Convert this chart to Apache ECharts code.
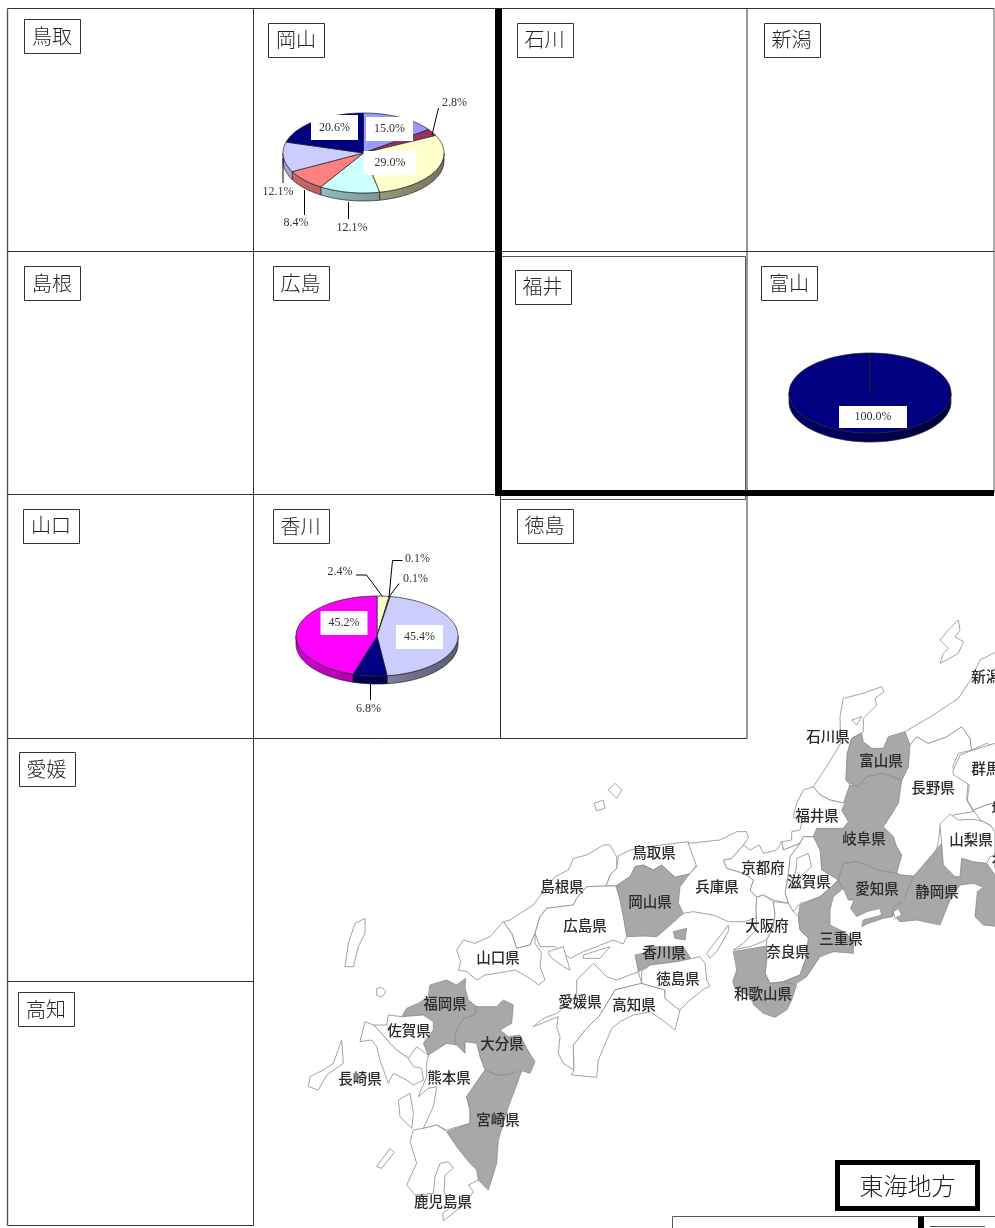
<!DOCTYPE html>
<html>
<head>
<meta charset="utf-8">
<style>
  html, body { margin: 0; background: #fff; }
  #main { width: 995px; height: 1228px; }
</style>
</head>
<body>
<div id="main"></div>
<script src="https://cdn.jsdelivr.net/npm/echarts@6/dist/echarts.min.js"></script>
<script>
// shares, clockwise from 12 o'clock
const okayamaShares = [15.0, 2.8, 29.0, 12.1, 8.4, 12.1, 20.6];
const toyamaShares = [100.0];
const kagawaShares = [2.4, 0.1, 0.1, 45.4, 6.8, 45.2];

const okayamaColors = ["#9999ff", "#993366", "#ffffcc", "#ccffff", "#ff8080", "#ccccff", "#000080"];
const toyamaColors = ["#000080"];
const kagawaColors = ["#ffffcc", "#ffffff", "#ffffff", "#ccccff", "#000080", "#ff00ff"];

const prefectureLabels = [
  ["鳥取", 24, 19, 56], ["岡山", 268, 22.5, 56], ["石川", 516.5, 22.5, 56], ["新潟", 763.5, 22.5, 56],
  ["島根", 24, 266, 56], ["広島", 272.5, 266, 56], ["福井", 514.5, 269.5, 56], ["富山", 761, 266, 56],
  ["山口", 23, 508.5, 56], ["香川", 272.5, 509, 56], ["徳島", 516.5, 508.5, 56],
  ["愛媛", 18.5, 752, 56], ["高知", 18, 992, 56],
];

const shadedPrefectures = ["富山県", "岐阜県", "愛知県", "静岡県", "三重県", "和歌山県", "岡山県", "香川県", "福岡県", "大分県", "宮崎県"];

// label anchors of the basemap, page pixels
const mapLabelSpots = {
  石川県: [828, 736], 富山県: [881, 760], 新潟県: [993, 676], 長野県: [933, 787], 群馬県: [993, 768],
  福井県: [817, 815], 岐阜県: [864, 838], 山梨県: [971, 839], 鳥取県: [654, 852], 京都府: [763, 867],
  滋賀県: [809, 881], 愛知県: [877, 888], 静岡県: [937, 891], 兵庫県: [717, 886], 岡山県: [650, 901],
  大阪府: [767, 925], 三重県: [841, 938], 香川県: [664, 952], 奈良県: [788, 951], 徳島県: [678, 978],
  和歌山県: [763, 993], 高知県: [634, 1004], 島根県: [562, 886], 広島県: [585, 925], 山口県: [498, 957],
  愛媛県: [580, 1001], 福岡県: [445, 1003], 佐賀県: [409, 1030], 大分県: [502, 1043], 長崎県: [360, 1078],
  熊本県: [449, 1077], 宮崎県: [498, 1119], 鹿児島県: [443, 1201], 埼玉県: [1013, 808], 神奈川県: [1021, 860],
};

const westFrame = [300, 900];
const midFrame = [440, 770];
const eastFrame = [600, 610];
const kantoFrame = [880, 750];

const westOutlines = {
  愛媛県: [1015,215, 1025,250, 945,270, 900,345, 860,385, 820,435, 822,510, 790,490, 775,460, 780,410, 770,380, 775,350, 700,380, 730,355, 770,340, 830,290, 830,240, 880,190, 920,230, 950,240],
  高知県: [1025,250, 1095,270, 1095,295, 1140,330, 1125,390, 1080,355, 1050,335, 1000,345, 960,365, 935,385, 895,480, 890,532, 815,525, 822,510, 820,435, 860,385, 900,345, 945,270],
  福岡県: [390,255, 440,240, 470,255, 497,235, 495,265, 505,300, 530,320, 525,345, 490,355, 465,400, 470,435, 440,430, 385,465, 370,430, 400,390, 400,365, 370,345, 305,350, 320,325, 355,310, 385,290],
  大分県: [530,320, 590,320, 610,300, 640,315, 635,370, 600,390, 625,410, 660,405, 680,445, 705,485, 690,520, 660,510, 620,525, 590,525, 555,510, 540,470, 530,430, 495,425, 495,460, 465,430, 465,400, 490,355, 525,345],
  熊本県: [385,465, 440,430, 470,435, 495,460, 495,425, 530,430, 540,470, 555,510, 500,590, 510,630, 510,670, 440,690, 410,675, 370,685, 400,620, 410,560, 385,565, 355,590, 380,530, 380,490],
  宮崎県: [555,510, 590,525, 620,525, 665,512, 650,555, 625,620, 595,720, 590,790, 565,870, 535,840, 530,810, 510,790, 470,740, 440,695, 510,670, 510,630, 500,590],
  鹿児島県: [340,690, 370,685, 410,675, 440,695, 470,740, 510,790, 530,810, 535,840, 505,855, 520,875, 500,905, 465,935, 430,962, 428,940, 455,920, 432,875, 435,825, 460,805, 445,785, 420,790, 405,830, 400,880, 345,885, 320,855, 350,790, 330,725],
  佐賀県: [305,350, 370,345, 400,365, 400,390, 370,430, 385,465, 350,440, 325,475, 290,450, 270,430, 240,395, 220,375, 260,375, 265,345],
  長崎県: [220,375, 240,395, 270,430, 290,450, 325,475, 340,500, 365,505, 370,540, 340,555, 320,540, 280,520, 265,550, 240,480, 230,440, 215,420, 180,425, 195,365],
};

const midOutlines = {
  鳥取県: [535,258, 570,240, 640,228, 745,215, 770,285, 748,312, 705,322, 665,285, 640,300, 610,285, 585,290, 570,320, 528,348, 498,348, 510,315, 530,295],
  島根県: [530,260, 510,225, 490,225, 440,255, 400,265, 385,300, 345,320, 305,370, 280,405, 240,430, 210,450, 190,455, 215,490, 230,535, 270,525, 285,490, 300,440, 320,415, 400,405, 410,385, 440,350, 498,348, 510,315, 530,295],
  岡山県: [528,348, 570,320, 585,290, 610,285, 640,300, 665,285, 705,322, 748,312, 725,370, 730,430, 680,475, 650,500, 610,498, 560,500, 550,440, 540,390],
  広島県: [440,350, 498,348, 528,348, 540,390, 550,440, 560,500, 550,522, 520,510, 470,530, 430,545, 390,565, 345,530, 300,530, 285,490, 300,440, 320,415, 400,405, 410,385],
  山口県: [190,455, 215,490, 230,535, 270,525, 285,490, 285,520, 305,550, 300,590, 315,630, 295,645, 270,625, 225,600, 170,610, 135,615, 110,630, 80,605, 55,600, 62,575, 50,540, 70,510, 105,520, 150,500],
};

const eastOutlines = {
  石川県: [640,530, 680,470, 722,400, 720,320, 730,265, 790,250, 845,230, 852,245, 825,265, 830,285, 790,325, 790,365, 755,385, 742,430, 738,510, 750,525, 735,580, 690,570, 660,555],
  富山県: [755,385, 785,370, 790,395, 815,415, 850,415, 865,380, 915,365, 930,405, 925,470, 905,512, 850,490, 800,500, 775,530, 750,520, 738,510, 742,430],
  岐阜県: [775,530, 800,500, 850,490, 905,512, 895,580, 870,620, 850,650, 880,680, 890,710, 905,735, 890,790, 860,785, 830,780, 800,765, 770,755, 730,760, 715,810, 690,795, 665,780, 660,720, 640,680, 650,655, 730,655, 745,635, 725,600, 740,550, 750,525],
  福井県: [610,540, 640,530, 660,555, 690,570, 735,580, 725,600, 745,635, 730,655, 650,655, 640,680, 610,680, 600,700, 550,720, 545,695, 575,690, 575,665, 600,660, 605,640, 580,620, 590,580],
  滋賀県: [640,680, 660,720, 665,780, 690,795, 715,810, 695,830, 660,860, 620,875, 600,880, 580,905, 565,880, 555,850, 565,790, 570,740, 600,700, 610,680],
  京都府: [430,705, 450,720, 478,705, 490,730, 530,720, 545,695, 550,720, 600,700, 570,740, 565,790, 555,850, 565,880, 520,870, 490,855, 470,862, 450,840, 460,810, 430,790, 380,775, 370,750, 395,745],
  兵庫県: [265,700, 360,690, 410,665, 440,665, 445,685, 430,705, 395,745, 370,750, 380,775, 430,790, 460,810, 450,840, 470,862, 468,925, 430,935, 385,935, 340,915, 280,905, 250,910, 235,880, 240,830, 270,790, 290,770],
  大阪府: [470,862, 490,855, 520,875, 525,910, 520,950, 500,990, 450,1010, 400,1020, 430,1000, 468,960, 470,925, 468,900],
  奈良県: [525,910, 520,875, 565,880, 580,905, 595,920, 600,960, 625,985, 620,1040, 600,1095, 550,1115, 510,1120, 495,1090, 500,1050, 500,990, 520,950],
  三重県: [600,885, 660,860, 695,830, 715,810, 730,835, 700,860, 690,900, 690,945, 730,965, 760,990, 760,1030, 700,1025, 660,1040, 640,1070, 620,1100, 590,1120, 560,1130, 550,1115, 600,1095, 620,1040, 625,985, 600,960, 595,920],
  和歌山県: [400,1025, 500,1008, 500,1050, 495,1090, 510,1120, 550,1115, 590,1125, 575,1170, 560,1200, 525,1222, 490,1210, 462,1185, 450,1160, 405,1135, 398,1115, 410,1080, 405,1050],
  愛知県: [715,810, 730,760, 770,755, 800,765, 830,780, 890,790, 905,795, 940,798, 925,840, 900,885, 878,895, 878,920, 850,925, 800,942, 785,950, 790,930, 845,915, 840,895, 800,905, 770,920, 752,895, 762,870, 745,870, 732,840],
  長野県: [930,405, 950,380, 985,400, 1040,380, 1085,350, 1110,385, 1115,420, 1075,430, 1058,470, 1075,500, 1105,510, 1100,570, 1120,605, 1060,615, 1020,650, 1015,695, 1005,740, 990,770, 940,798, 905,795, 890,790, 905,735, 890,710, 880,680, 850,650, 870,620, 895,580, 905,512, 925,470],
  新潟県: [915,365, 1000,315, 1075,265, 1115,205, 1140,150, 1200,120, 1200,420, 1160,400, 1115,420, 1110,385, 1085,350, 1040,380, 985,400, 950,380, 930,405],
  香川県: [105,1035, 130,1030, 150,1010, 250,1010, 275,1050, 230,1055, 150,1065, 115,1085],
  徳島県: [125,1085, 150,1065, 230,1055, 300,1040, 315,1060, 320,1110, 330,1130, 315,1135, 270,1170, 240,1200, 225,1190, 195,1165, 195,1140, 125,1120],
};

const kantoOutlines = {
  静岡県: [100,380, 185,280, 190,345, 225,380, 240,380, 245,325, 280,335, 320,340, 345,375, 360,375, 360,530, 310,525, 285,500, 292,425, 310,412, 280,400, 240,405, 210,450, 180,525, 110,510, 60,515, 35,490, 40,470, 70,455],
  山梨県: [180,222, 210,192, 235,210, 280,208, 310,215, 330,225, 345,245, 345,340, 320,340, 280,335, 245,325, 240,380, 225,380, 190,345, 185,280],
  群馬県: [218,65, 240,15, 280,0, 345,-20, 360,-20, 360,155, 320,165, 280,180, 262,150, 268,105, 222,75],
  埼玉県: [280,180, 320,165, 360,155, 360,250, 345,245, 330,225, 300,210],
  神奈川県: [330,320, 360,310, 360,375, 345,375, 320,340],
};

// islands, lakes and bays drawn on top with the white land colour
const westIslands = [
  [135,200, 145,130, 165,70, 195,55, 195,100, 175,140, 160,200],
  [230,265, 245,262, 258,275, 245,292, 230,285],
  [25,560, 30,530, 70,510, 100,490, 125,420, 130,490, 80,525, 55,570],
  [295,600, 330,580, 340,640, 335,685, 300,650],
  [230,800, 270,745, 282,758, 245,805],
  [745,155, 790,140, 810,210, 790,200, 750,170],
  [850,165, 930,140, 900,175, 850,175],
];
const midIslands = [
  [505,60, 525,40, 545,60, 530,85],
  [462,100, 490,90, 495,115, 470,122],
];
const eastIslands = [
  [1075,30, 1080,60, 1065,80, 1090,95, 1075,130, 1040,150, 1020,160, 1030,130, 1045,115, 1020,90, 1045,60],
  [320,1030, 385,945, 385,965, 350,1025, 330,1045],
  [590,745, 625,730, 635,770, 600,800, 575,830, 590,770],
  [755,330, 785,320, 770,345],
  [880,905, 895,895, 905,915, 885,925],
];
const shodoshima = [220,965, 260,955, 255,990, 225,985];

const toRing = (frame, flat) => {
  const ring = [];
  for (let i = 0; i < flat.length; i += 2) {
    ring.push([frame[0] + flat[i] / 3, -(frame[1] + flat[i + 1] / 3)]);
  }
  ring.push(ring[0]);
  return ring;
};

const features = [];
[[westFrame, westOutlines], [midFrame, midOutlines], [eastFrame, eastOutlines], [kantoFrame, kantoOutlines]].forEach(([frame, outlines]) => {
  Object.keys(outlines).forEach((name) => {
    const spot = mapLabelSpots[name];
    features.push({
      type: "Feature",
      properties: { name, cp: [spot[0], -spot[1]] },
      geometry: { type: "Polygon", coordinates: [toRing(frame, outlines[name])] },
    });
  });
});
features.push({
  type: "Feature",
  properties: { name: "島嶼" },
  geometry: {
    type: "MultiPolygon",
    coordinates: [
      ...westIslands.map((s) => [toRing(westFrame, s)]),
      ...midIslands.map((s) => [toRing(midFrame, s)]),
      ...eastIslands.map((s) => [toRing(eastFrame, s)]),
    ],
  },
});
features.push({
  type: "Feature",
  properties: { name: "小豆島" },
  geometry: { type: "Polygon", coordinates: [toRing(eastFrame, shodoshima)] },
});
echarts.registerMap("westJapan", { type: "FeatureCollection", features });

const shade = (hex, f) => {
  const n = parseInt(hex.slice(1), 16);
  const c = [(n >> 16) & 255, (n >> 8) & 255, n & 255].map((v) => Math.round(v * f));
  return "rgb(" + c.join(",") + ")";
};

// flat pie on an ellipse with a rim, ECharts pie sectors can't tilt
function tiltedPie(shares, colors, disc, notes) {
  const total = shares.reduce((a, b) => a + b, 0);
  const rimPoint = (deg, drop) => {
    const t = (deg * Math.PI) / 180;
    return [disc.cx + disc.rx * Math.sin(t), disc.cy - disc.ry * Math.cos(t) + drop];
  };
  const arc = (from, to, drop) => {
    const steps = Math.max(1, Math.ceil((to - from) / 3));
    const pts = [];
    for (let i = 0; i <= steps; i++) {
      pts.push(rimPoint(from + ((to - from) * i) / steps, drop));
    }
    return pts;
  };
  return {
    type: "custom",
    coordinateSystem: "none",
    silent: true,
    animation: false,
    data: shares,
    renderItem(params, api) {
      const i = params.dataIndex;
      const value = api.value(0);
      const before = shares.slice(0, i).reduce((a, b) => a + b, 0);
      const from = (before / total) * 360;
      const to = ((before + value) / total) * 360;
      const color = colors[i];
      const children = [];

      const frontFrom = Math.max(from, 90);
      const frontTo = Math.min(to, 270);
      if (frontTo > frontFrom) {
        children.push({
          type: "polygon",
          z2: 0,
          shape: { points: arc(frontFrom, frontTo, 0).concat(arc(frontFrom, frontTo, disc.depth).reverse()) },
          style: {
            fill: new echarts.graphic.LinearGradient(disc.cx + disc.rx, 0, disc.cx - disc.rx, 0, [
              { offset: 0, color: shade(color, 0.45) },
              { offset: 1, color: shade(color, 0.82) },
            ], true),
            stroke: "#222",
            lineWidth: 0.7,
          },
        });
      }
      children.push({
        type: "polygon",
        z2: 1,
        shape: { points: [[disc.cx, disc.cy]].concat(arc(from, to, 0)) },
        style: { fill: color, stroke: "#222", lineWidth: 0.7 },
      });

      const note = notes[i];
      if (note.leader) {
        children.push({
          type: "polyline",
          z2: 2,
          shape: { points: note.leader },
          style: { fill: null, stroke: "#000", lineWidth: 1 },
        });
      }
      if (note.box) {
        children.push({
          type: "rect",
          z2: 3,
          shape: { x: note.at[0] - note.box[0] / 2, y: note.at[1] - note.box[1] / 2, width: note.box[0], height: note.box[1] },
          style: { fill: "#fff" },
        });
      }
      children.push({
        type: "text",
        z2: 4,
        x: note.at[0],
        y: note.at[1],
        style: {
          text: value.toFixed(1) + "%",
          fontFamily: "'Liberation Serif'",
          fontSize: 12,
          fill: "#333",
          align: "center",
          verticalAlign: "middle",
        },
      });
      return { type: "group", children };
    },
  };
}

const okayamaNotes = [
  { at: [389.5, 129], box: [47, 24] },
  { at: [454.5, 103], leader: [[432, 135], [438.5, 108]] },
  { at: [390, 163], box: [53, 24] },
  { at: [352, 228], leader: [[348.5, 202], [348.5, 219]] },
  { at: [296, 223], leader: [[304.5, 190], [304.5, 215]] },
  { at: [278, 192], leader: [[283, 158], [283, 183]] },
  { at: [334.5, 127.5], box: [47, 25] },
];
const toyamaNotes = [{ at: [873, 417], box: [68, 22] }];
const kagawaNotes = [
  { at: [340, 571.5], leader: [[356, 575], [366.5, 575], [382.5, 596.5]] },
  { at: [417.5, 558.5], leader: [[402.5, 560.5], [392.5, 560.5], [389, 597]] },
  { at: [415.5, 578.5], leader: [[399, 583.5], [389, 597]] },
  { at: [419.5, 637], box: [47, 24] },
  { at: [368.5, 709], leader: [[370.5, 684], [370.5, 700]] },
  { at: [344, 623], box: [47, 24] },
];

const ruleLine = (x1, y1, x2, y2, lineWidth, stroke) => ({
  type: "line",
  shape: { x1, y1, x2, y2 },
  style: { stroke: stroke || "#333", lineWidth: lineWidth || 1 },
});

const tableRules = [
  ruleLine(7.5, 8.5, 994, 8.5),
  ruleLine(7.5, 8.5, 7.5, 1225.5, 1.4, "#555"),
  ruleLine(253.5, 8.5, 253.5, 1225.5),
  ruleLine(747, 8.5, 747, 738.5),
  ruleLine(994, 8.5, 994, 493, 1, "#555"),
  ruleLine(7.5, 251.5, 994, 251.5),
  ruleLine(7.5, 494.5, 498, 494.5),
  ruleLine(7.5, 738.5, 747, 738.5),
  ruleLine(7.5, 981.5, 253.5, 981.5),
  ruleLine(7.5, 1225.5, 253.5, 1225.5),
  ruleLine(500.5, 495, 500.5, 738.5),
  ruleLine(502, 256.5, 745.5, 256.5, 1, "#555"),
  ruleLine(745.5, 256.5, 745.5, 499.5, 1, "#555"),
  ruleLine(500, 499.5, 745.5, 499.5, 1, "#555"),
  ruleLine(498.5, 8.5, 498.5, 496, 7, "#000"),
  ruleLine(495, 493, 994, 493, 6, "#000"),
  ruleLine(672.5, 1216.5, 995, 1216.5, 1, "#555"),
  ruleLine(672.5, 1216.5, 672.5, 1228, 1, "#555"),
  ruleLine(921, 1216.5, 921, 1228, 6, "#000"),
  ruleLine(930, 1226.5, 985, 1226.5, 1, "#555"),
];

const labelBoxes = prefectureLabels.flatMap(([text, x, y, w]) => [
  {
    type: "rect",
    shape: { x: Math.round(x) + 0.5, y: Math.round(y) + 0.5, width: w, height: 34 },
    style: { fill: "#fff", stroke: "#333", lineWidth: 1 },
  },
  {
    type: "text",
    x: x + w / 2,
    y: y + 17,
    style: {
      text,
      fontFamily: "'Noto Sans CJK JP'",
      fontWeight: 300,
      fontSize: 20,
      fill: "#222",
      align: "center",
      verticalAlign: "middle",
    },
  },
]);

const tokaiBox = [
  {
    type: "rect",
    shape: { x: 837.5, y: 1162.5, width: 140, height: 46 },
    style: { fill: "#fff", stroke: "#000", lineWidth: 5 },
  },
  {
    type: "text",
    x: 907.5,
    y: 1185.5,
    style: {
      text: "東海地方",
      fontFamily: "'Noto Sans CJK JP'",
      fontWeight: 300,
      fontSize: 24,
      fill: "#222",
      align: "center",
      verticalAlign: "middle",
    },
  },
];

const chart = echarts.init(document.getElementById("main"));
chart.setOption({
  animation: false,
  backgroundColor: "#fff",
  geo: {
    map: "westJapan",
    silent: true,
    roam: false,
    aspectScale: 1,
    boundingCoords: [[0, 0], [995, -1228]],
    left: 0,
    top: 0,
    width: 995,
    height: 1228,
    itemStyle: { areaColor: "#fff", borderColor: "#8c8c8c", borderWidth: 0.8 },
    label: {
      show: true,
      fontFamily: "'Noto Sans CJK JP'",
      fontWeight: 500,
      fontSize: 14.5,
      color: "#2a2a2a",
    },
    regions: [
      ...shadedPrefectures.map((name) => ({ name, itemStyle: { areaColor: "#a8a8a8" } })),
      { name: "島嶼", label: { show: false } },
      { name: "小豆島", label: { show: false }, itemStyle: { areaColor: "#a8a8a8" } },
    ],
  },
  graphic: { elements: [...tableRules, ...labelBoxes, ...tokaiBox] },
  series: [
    tiltedPie(okayamaShares, okayamaColors, { cx: 363.5, cy: 153, rx: 80.5, ry: 40, depth: 8 }, okayamaNotes),
    tiltedPie(toyamaShares, toyamaColors, { cx: 870, cy: 393, rx: 81, ry: 40, depth: 9 }, toyamaNotes),
    tiltedPie(kagawaShares, kagawaColors, { cx: 377, cy: 636, rx: 81, ry: 40, depth: 8 }, kagawaNotes),
  ],
});
</script>
</body>
</html>
